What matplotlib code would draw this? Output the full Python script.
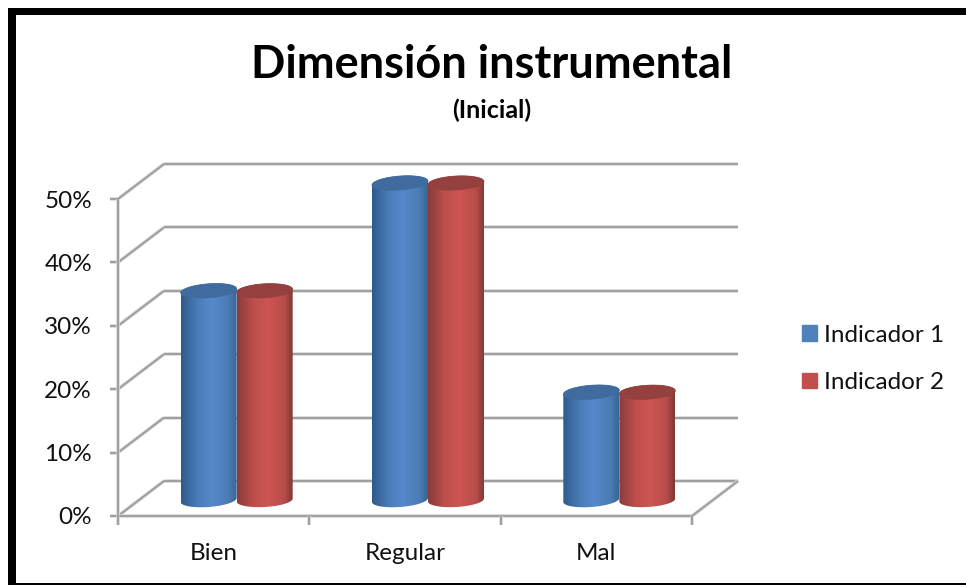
import matplotlib

matplotlib.use("Agg")
import matplotlib.pyplot as plt
import numpy as np
from matplotlib.colors import to_rgb
from matplotlib.patches import Patch, PathPatch, Rectangle
from matplotlib.path import Path

categories = ["Bien", "Regular", "Mal"]
indicador_1 = [33, 50, 17]
indicador_2 = [33, 50, 17]
y_ticks = [0, 10, 20, 30, 40, 50]
y_labels = ["0%", "10%", "20%", "30%", "40%", "50%"]

W, H = 966, 585
GRID = "#a0a0a0"
plt.rcParams["font.family"] = ["Lato", "DejaVu Sans"]

fig = plt.figure(figsize=(W / 100, H / 100), dpi=100, facecolor="white")

# front plane of the fake 3d box, in pixels
left, right, bottom, top = 118, 692, 516, 199
ax = fig.add_axes([left / W, 1 - bottom / H, (right - left) / W, (bottom - top) / H])
ax.set_xlim(0, len(categories))
ax.set_ylim(0, y_ticks[-1])
ax.axis("off")

px_x = len(categories) / (right - left)
px_y = y_ticks[-1] / (bottom - top)
depth_x = 46 * px_x
depth_y = 35 * px_y
n = len(categories)


def line(xs, ys):
    # soft halo under the line, the original has a faint shadow
    ax.plot(xs, ys, color="#dcdcdc", lw=2.6, clip_on=False, solid_capstyle="butt", zorder=1)
    ax.plot(xs, ys, color=GRID, lw=1.5, clip_on=False, solid_capstyle="butt", zorder=1)


for tick, label in zip(y_ticks, y_labels):
    line([0, depth_x], [tick, tick + depth_y])
    line([depth_x, n + depth_x], [tick + depth_y, tick + depth_y])
    line([-8 * px_x, 0], [tick, tick])
    ax.text(-26 * px_x, tick - 2 * px_y, label, ha="right", va="center", fontsize=17.5, color="#111111")

line([0, 0], [0, y_ticks[-1]])
line([0, n], [0, 0])
line([n, n + depth_x], [0, depth_y])
for i in range(n + 1):
    line([i, i], [0, -9 * px_y])
for i, name in enumerate(categories):
    ax.text(i + 0.5, -37 * px_y, name, ha="center", va="center", fontsize=17.5, color="#111111")


def cylinder(cx, value, stops, cap, tilt):
    rx = 28 * px_x
    ry = 7 * px_y
    tilt = tilt * px_y
    y0 = depth_y / 2 - 1.5 * px_y
    y1 = value + y0

    t = np.linspace(np.pi, 2 * np.pi, 40)
    low_x = cx + rx * np.cos(t)
    low_y = y0 + ry * np.sin(t) + tilt * np.cos(t)
    t = np.linspace(0, np.pi, 40)
    up_x = cx + rx * np.cos(t)
    up_y = y1 + ry * np.sin(t) + tilt * np.cos(t)
    side = np.column_stack([np.r_[low_x, up_x], np.r_[low_y, up_y]])
    side_patch = PathPatch(Path(np.vstack([side, side[0]]), closed=True), fc="none", ec="none",
                           transform=ax.transData)
    ax.add_patch(side_patch)

    # left to right shading of the side
    pos = [0, 0.3, 0.55, 0.85, 1]
    colours = np.array([to_rgb(c) for c in stops])
    u = np.linspace(0, 1, 120)
    grad = np.stack([np.interp(u, pos, colours[:, k]) for k in range(3)], axis=1)[None, :, :]
    im = ax.imshow(grad, extent=[cx - rx, cx + rx, y0 - 2, y1 + 2], aspect="auto",
                   interpolation="bilinear", zorder=3)
    im.set_clip_path(side_patch)
    im.set_clip_box(fig.bbox)

    t = np.linspace(0, 2 * np.pi, 80)
    ax.fill(cx + rx * np.cos(t), y1 + ry * np.sin(t) + tilt * np.cos(t), color=cap, lw=0.5,
            clip_on=False, zorder=4)


blue_stops = ["#2f5a8c", "#4a7cb8", "#5589c9", "#4a7cb5", "#3a6494"]
red_stops = ["#8a3c3a", "#bd4f4c", "#cd5552", "#b84c4a", "#7f3836"]
width = 56 * px_x
for i in range(n):
    cx = i + 0.5 + depth_x / 2
    cylinder(cx - width / 2, indicador_1[i], blue_stops, "#3f6b9f", 2.0)
    cylinder(cx + width / 2, indicador_2[i], red_stops, "#94403e", 1.5)

ax.set_xlim(0, n)
ax.set_ylim(0, y_ticks[-1])

fig.text(492 / W, 1 - 65 / H, "Dimensión instrumental", ha="center", va="center",
         fontsize=32.5, fontweight="bold", color="black")
fig.text(492 / W, 1 - 110 / H, "(Inicial)", ha="center", va="center",
         fontsize=18, fontweight="bold", color="black")

handles = [Patch(color="#4f81bd", label="Indicador 1"), Patch(color="#c0504d", label="Indicador 2")]
fig.legend(handles=handles, loc="center left", bbox_to_anchor=(780 / W, 1 - 359 / H), frameon=False,
           fontsize=17.5, handlelength=0.62, handleheight=0.62, handletextpad=0.3,
           labelspacing=1.08, labelcolor="#111111")

# black frame around the chart
frame = [(8, 8, W - 8, 7), (8, 8, 8, H - 8), (8, 583, W - 8, 2)]
for x, y, w, h in frame:
    fig.add_artist(Rectangle((x / W, 1 - (y + h) / H), w / W, h / H, transform=fig.transFigure,
                             fc="black", ec="none"))

fig.savefig("out.png", dpi=100)
